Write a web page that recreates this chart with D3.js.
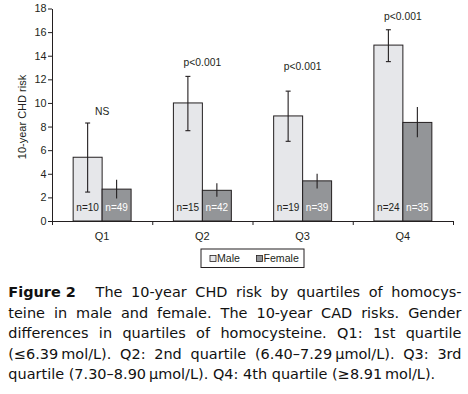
<!DOCTYPE html>
<html>
<head>
<meta charset="utf-8">
<script src="https://cdn.jsdelivr.net/npm/d3@7"></script>
<style>
  body { margin: 0; background: #fff; }
  svg { display: block; }
</style>
</head>
<body>
<script>
// values
var categories = ["Q1", "Q2", "Q3", "Q4"];
var maleRisk   = [5.4, 10.0, 8.9, 14.9];
var maleLow    = [2.45, 7.65, 6.75, 13.5];
var maleHigh   = [8.3, 12.25, 11.0, 16.2];
var femaleRisk = [2.7, 2.6, 3.4, 8.35];
var femaleLow  = [1.9, 2.05, 2.75, 7.1];
var femaleHigh = [3.5, 3.2, 4.0, 9.65];
var maleN      = [10, 15, 19, 24];
var femaleN    = [49, 42, 39, 35];
var pLabels    = ["NS", "p<0.001", "p<0.001", "p<0.001"];
var pLabelAt   = [9.0, 13.1, 12.8, 17.0];
var yTicks     = [0, 2, 4, 6, 8, 10, 12, 14, 16, 18];
var seriesNames = ["Male", "Female"];

var captionLines = [
  [{t: "Figure 2", bold: true, gap: 2.3}, "The", "10-year", "CHD", "risk", "by", "quartiles", "of", "homocys-"],
  ["teine", "in", "male", "and", "female.", "The", "10-year", "CAD", "risks.", "Gender"],
  ["differences", "in", "quartiles", "of", "homocysteine.", "Q1:", "1st", "quartile"],
  ["(\u22646.39\u2009mol/L).", "Q2:", "2nd", "quartile", "(6.40\u20137.29\u2009\u03bcmol/L).", "Q3:", "3rd"],
  ["quartile", "(7.30\u20138.90\u2009\u03bcmol/L).", "Q4:", "4th", "quartile", "(\u22658.91\u2009mol/L)."]
];

var W = 468, H = 394;
var ink = "#231f20";
var colors = {Male: "#e6e7ea", Female: "#939598"};

var svg = d3.select("body").append("svg")
  .attr("width", W)
  .attr("height", H);

svg.append("rect").attr("width", W).attr("height", H).attr("fill", "#fff");

var x = d3.scaleBand().domain(categories).range([52, 453]);
var xSub = d3.scaleBand().domain(seriesNames).range([0, x.bandwidth()]).paddingOuter(0.73);
var y = d3.scaleLinear().domain([0, 18]).range([221, 8.5]);

var chart = svg.append("g")
  .attr("font-family", "'Liberation Sans', Arial, sans-serif")
  .attr("fill", ink);

// bars
var rows = categories.map(function(c, i) {
  return [
    {cat: c, s: "Male", v: maleRisk[i], lo: maleLow[i], hi: maleHigh[i], n: maleN[i]},
    {cat: c, s: "Female", v: femaleRisk[i], lo: femaleLow[i], hi: femaleHigh[i], n: femaleN[i]}
  ];
});
var flat = d3.merge(rows);

chart.selectAll("rect.bar")
  .data(flat)
  .enter()
  .append("rect")
  .attr("class", "bar")
  .attr("x", function(d) { return x(d.cat) + xSub(d.s); })
  .attr("y", function(d) { return y(d.v); })
  .attr("width", xSub.bandwidth())
  .attr("height", function(d) { return y(0) - y(d.v); })
  .attr("fill", function(d) { return colors[d.s]; })
  .attr("stroke", ink)
  .attr("stroke-width", 1);

// error bars
var err = chart.selectAll("g.err")
  .data(flat)
  .enter()
  .append("g")
  .attr("class", "err")
  .attr("stroke", ink)
  .attr("stroke-width", 1.1);

err.append("line")
  .attr("x1", function(d) { return x(d.cat) + xSub(d.s) + xSub.bandwidth() / 2; })
  .attr("x2", function(d) { return x(d.cat) + xSub(d.s) + xSub.bandwidth() / 2; })
  .attr("y1", function(d) { return y(d.lo); })
  .attr("y2", function(d) { return y(d.hi); });

err.filter(function(d) { return d.s == "Male"; })
  .selectAll("line.cap")
  .data(function(d) { return [{d: d, v: d.lo}, {d: d, v: d.hi}]; })
  .enter()
  .append("line")
  .attr("class", "cap")
  .attr("x1", function(e) { return x(e.d.cat) + xSub(e.d.s) + xSub.bandwidth() / 2 - 2.5; })
  .attr("x2", function(e) { return x(e.d.cat) + xSub(e.d.s) + xSub.bandwidth() / 2 + 2.5; })
  .attr("y1", function(e) { return y(e.v); })
  .attr("y2", function(e) { return y(e.v); });

// n labels at the foot of the bars
chart.selectAll("text.n")
  .data(flat)
  .enter()
  .append("text")
  .attr("class", "n")
  .attr("x", function(d) { return x(d.cat) + xSub(d.s) + xSub.bandwidth() / 2; })
  .attr("y", y(0) - 10)
  .attr("text-anchor", "middle")
  .attr("font-size", 10)
  .attr("fill", function(d) { return d.s == "Male" ? ink : "#fff"; })
  .text(function(d) { return "n=" + d.n; });

// p-values
chart.selectAll("text.p")
  .data(categories)
  .enter()
  .append("text")
  .attr("class", "p")
  .attr("x", function(c) { return x(c) + x.bandwidth() / 2; })
  .attr("y", function(c, i) { return y(pLabelAt[i]); })
  .attr("text-anchor", "middle")
  .attr("font-size", 10.3)
  .text(function(c, i) { return pLabels[i]; });

// y axis
var yAxis = d3.axisLeft(y).tickValues(yTicks).tickSize(4).tickSizeOuter(0).tickPadding(1.5);
var gy = chart.append("g").attr("transform", "translate(52,0)").call(yAxis);
gy.selectAll("text").attr("font-size", 10.8).attr("fill", ink);
gy.selectAll("line, path").attr("stroke", ink);
gy.attr("font-family", null);

// x axis: boundary ticks plus category labels
var xb = d3.scaleLinear().domain([0, categories.length]).range(x.range());
var gxb = chart.append("g").attr("transform", "translate(0," + y(0) + ")")
  .call(d3.axisBottom(xb).ticks(categories.length).tickSize(4).tickSizeOuter(0).tickFormat(""));
gxb.selectAll("line, path").attr("stroke", ink);

var gx = chart.append("g").attr("transform", "translate(0," + y(0) + ")")
  .call(d3.axisBottom(x).tickSize(0).tickPadding(11));
gx.select("path").remove();
gx.selectAll("text").attr("font-size", 11).attr("fill", ink);
gx.attr("font-family", null);

// y title
chart.append("text")
  .attr("transform", "translate(26,117) rotate(-90)")
  .attr("text-anchor", "middle")
  .attr("font-size", 11)
  .text("10-year CHD risk");

// legend
var leg = chart.append("g").attr("transform", "translate(201,249)");
leg.append("rect")
  .attr("width", 103)
  .attr("height", 18.5)
  .attr("fill", "#fff")
  .attr("stroke", ink)
  .attr("stroke-width", 1);
var legItems = leg.selectAll("g.item")
  .data(seriesNames)
  .enter()
  .append("g")
  .attr("class", "item")
  .attr("transform", function(d, i) { return "translate(" + (9 + i * 46.5) + ",0)"; });
legItems.append("rect")
  .attr("y", 6.5)
  .attr("width", 6)
  .attr("height", 6)
  .attr("fill", function(d) { return colors[d]; })
  .attr("stroke", ink)
  .attr("stroke-width", 0.8);
legItems.append("text")
  .attr("x", 7)
  .attr("y", 13)
  .attr("font-size", 10.6)
  .text(function(d) { return d; });

// caption, justified word by word
var capSize = 14.2;
var cap = svg.append("g")
  .attr("font-family", "'DejaVu Sans', Verdana, sans-serif")
  .attr("font-size", capSize)
  .attr("fill", "#111");

var probe = cap.append("text").text(captionLines[4].join(" "));
var sx = 427 / probe.node().getComputedTextLength();
probe.remove();
cap.attr("transform", "scale(" + sx + ",1)");

var left = 8.3 / sx, right = 461.5 / sx;
captionLines.forEach(function(line, li) {
  var toks = line.map(function(t) { return typeof t == "string" ? {t: t} : t; });
  var nodes = toks.map(function(tok) {
    return cap.append("text")
      .attr("y", 297 + li * 20.6)
      .attr("font-weight", tok.bold ? "bold" : null)
      .text(tok.t);
  });
  var widths = nodes.map(function(n) { return n.node().getComputedTextLength(); });
  var weights = toks.slice(0, -1).map(function(tok) { return tok.gap || 1; });
  var last = li == captionLines.length - 1;
  var spaceW = capSize * 0.318;
  var gap = last ? spaceW : (right - left - d3.sum(widths)) / d3.sum(weights);
  var pos = left;
  nodes.forEach(function(n, i) {
    n.attr("x", pos);
    pos += widths[i] + (weights[i] || 0) * gap;
  });
});
</script>
</body>
</html>
